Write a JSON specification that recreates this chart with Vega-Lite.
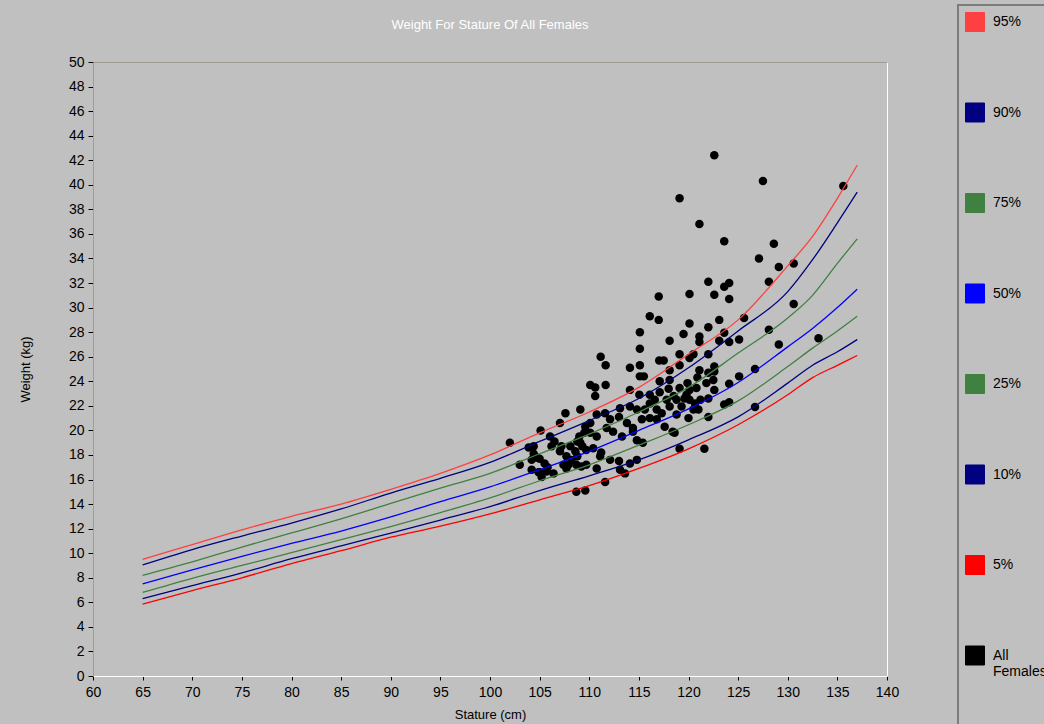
{
  "$schema": "https://vega.github.io/schema/vega-lite/v6.json",
  "width": 794,
  "height": 614,
  "autosize": {"type": "none"},
  "padding": {"left": 93, "top": 62, "right": 157, "bottom": 48},
  "background": "#c0c0c0",
  "title": {
    "text": "Weight For Stature Of All Females",
    "color": "#ffffff",
    "font": "Liberation Sans",
    "fontSize": 13,
    "fontWeight": "normal",
    "anchor": "middle",
    "frame": "group",
    "offset": -28
  },
  "datasets": {
    "curves": [
      {"series":"95%","stature":65,"weight":9.5},{"series":"95%","stature":70,"weight":10.7},{"series":"95%","stature":75,"weight":11.9},{"series":"95%","stature":80,"weight":13.0},{"series":"95%","stature":85,"weight":14.0},{"series":"95%","stature":90,"weight":15.2},{"series":"95%","stature":95,"weight":16.5},{"series":"95%","stature":100,"weight":18.0},{"series":"95%","stature":105,"weight":19.8},{"series":"95%","stature":110,"weight":21.5},{"series":"95%","stature":115,"weight":23.5},{"series":"95%","stature":120,"weight":26.2},{"series":"95%","stature":125,"weight":29.0},{"series":"95%","stature":130,"weight":33.4},{"series":"95%","stature":132.5,"weight":35.8},{"series":"95%","stature":135,"weight":38.9},{"series":"95%","stature":137,"weight":41.6},
      {"series":"90%","stature":65,"weight":9.05},{"series":"90%","stature":70,"weight":10.3},{"series":"90%","stature":75,"weight":11.4},{"series":"90%","stature":80,"weight":12.45},{"series":"90%","stature":85,"weight":13.6},{"series":"90%","stature":90,"weight":14.9},{"series":"90%","stature":95,"weight":16.1},{"series":"90%","stature":100,"weight":17.4},{"series":"90%","stature":105,"weight":19.1},{"series":"90%","stature":110,"weight":20.8},{"series":"90%","stature":115,"weight":22.6},{"series":"90%","stature":120,"weight":25.1},{"series":"90%","stature":125,"weight":28.1},{"series":"90%","stature":130,"weight":31.3},{"series":"90%","stature":132.5,"weight":33.9},{"series":"90%","stature":135,"weight":36.9},{"series":"90%","stature":137,"weight":39.4},
      {"series":"75%","stature":65,"weight":8.2},{"series":"75%","stature":70,"weight":9.3},{"series":"75%","stature":75,"weight":10.5},{"series":"75%","stature":80,"weight":11.65},{"series":"75%","stature":85,"weight":12.8},{"series":"75%","stature":90,"weight":14.05},{"series":"75%","stature":95,"weight":15.3},{"series":"75%","stature":100,"weight":16.5},{"series":"75%","stature":105,"weight":18.1},{"series":"75%","stature":110,"weight":19.7},{"series":"75%","stature":115,"weight":21.5},{"series":"75%","stature":120,"weight":23.5},{"series":"75%","stature":125,"weight":26.3},{"series":"75%","stature":130,"weight":29.15},{"series":"75%","stature":132.5,"weight":31.0},{"series":"75%","stature":135,"weight":33.6},{"series":"75%","stature":137,"weight":35.6},
      {"series":"50%","stature":65,"weight":7.5},{"series":"50%","stature":70,"weight":8.65},{"series":"50%","stature":75,"weight":9.75},{"series":"50%","stature":80,"weight":10.8},{"series":"50%","stature":85,"weight":11.8},{"series":"50%","stature":90,"weight":12.95},{"series":"50%","stature":95,"weight":14.2},{"series":"50%","stature":100,"weight":15.4},{"series":"50%","stature":105,"weight":16.8},{"series":"50%","stature":110,"weight":18.3},{"series":"50%","stature":115,"weight":20.0},{"series":"50%","stature":120,"weight":21.75},{"series":"50%","stature":125,"weight":23.9},{"series":"50%","stature":130,"weight":26.8},{"series":"50%","stature":132.5,"weight":28.3},{"series":"50%","stature":135,"weight":30.0},{"series":"50%","stature":137,"weight":31.5},
      {"series":"25%","stature":65,"weight":6.8},{"series":"25%","stature":70,"weight":7.95},{"series":"25%","stature":75,"weight":9.0},{"series":"25%","stature":80,"weight":10.05},{"series":"25%","stature":85,"weight":11.1},{"series":"25%","stature":90,"weight":12.17},{"series":"25%","stature":95,"weight":13.3},{"series":"25%","stature":100,"weight":14.5},{"series":"25%","stature":105,"weight":15.9},{"series":"25%","stature":110,"weight":17.2},{"series":"25%","stature":115,"weight":18.8},{"series":"25%","stature":120,"weight":20.46},{"series":"25%","stature":125,"weight":22.4},{"series":"25%","stature":130,"weight":25.2},{"series":"25%","stature":132.5,"weight":26.7},{"series":"25%","stature":135,"weight":28.1},{"series":"25%","stature":137,"weight":29.3},
      {"series":"10%","stature":65,"weight":6.3},{"series":"10%","stature":70,"weight":7.35},{"series":"10%","stature":75,"weight":8.4},{"series":"10%","stature":80,"weight":9.55},{"series":"10%","stature":85,"weight":10.6},{"series":"10%","stature":90,"weight":11.63},{"series":"10%","stature":95,"weight":12.7},{"series":"10%","stature":100,"weight":13.8},{"series":"10%","stature":105,"weight":15.1},{"series":"10%","stature":110,"weight":16.3},{"series":"10%","stature":115,"weight":17.6},{"series":"10%","stature":120,"weight":19.23},{"series":"10%","stature":125,"weight":21.1},{"series":"10%","stature":130,"weight":23.85},{"series":"10%","stature":132.5,"weight":25.3},{"series":"10%","stature":135,"weight":26.4},{"series":"10%","stature":137,"weight":27.4},
      {"series":"5%","stature":65,"weight":5.85},{"series":"5%","stature":70,"weight":6.95},{"series":"5%","stature":75,"weight":8.0},{"series":"5%","stature":80,"weight":9.15},{"series":"5%","stature":85,"weight":10.2},{"series":"5%","stature":90,"weight":11.3},{"series":"5%","stature":95,"weight":12.2},{"series":"5%","stature":100,"weight":13.2},{"series":"5%","stature":105,"weight":14.35},{"series":"5%","stature":110,"weight":15.5},{"series":"5%","stature":115,"weight":16.9},{"series":"5%","stature":120,"weight":18.5},{"series":"5%","stature":125,"weight":20.46},{"series":"5%","stature":130,"weight":22.9},{"series":"5%","stature":132.5,"weight":24.3},{"series":"5%","stature":135,"weight":25.3},{"series":"5%","stature":137,"weight":26.1}
    ],
    "females": [
      {"stature":122.6,"weight":42.4},{"stature":127.5,"weight":40.3},{"stature":119.1,"weight":38.9},{"stature":121.1,"weight":36.8},{"stature":123.6,"weight":35.4},{"stature":128.6,"weight":35.2},{"stature":127.1,"weight":34.0},{"stature":130.6,"weight":33.6},{"stature":129.1,"weight":33.3},{"stature":135.6,"weight":39.9},
      {"stature":128.1,"weight":32.1},{"stature":122.0,"weight":32.1},{"stature":124.1,"weight":32.0},{"stature":123.6,"weight":31.7},{"stature":122.6,"weight":31.05},{"stature":120.1,"weight":31.1},{"stature":117.0,"weight":30.9},{"stature":124.1,"weight":30.7},{"stature":130.6,"weight":30.3},{"stature":116.1,"weight":29.3},
      {"stature":117.0,"weight":29.0},{"stature":125.6,"weight":29.15},{"stature":120.1,"weight":28.7},{"stature":123.1,"weight":29.0},{"stature":122.0,"weight":28.4},{"stature":115.1,"weight":28.0},{"stature":119.5,"weight":27.85},{"stature":121.1,"weight":27.65},{"stature":123.6,"weight":27.95},{"stature":121.1,"weight":27.2},
      {"stature":123.1,"weight":27.3},{"stature":124.1,"weight":27.2},{"stature":125.1,"weight":27.4},{"stature":128.1,"weight":28.2},{"stature":118.1,"weight":27.3},{"stature":115.1,"weight":26.65},{"stature":129.1,"weight":27.0},{"stature":133.1,"weight":27.5},{"stature":119.1,"weight":26.2},{"stature":122.0,"weight":26.2},
      {"stature":117.05,"weight":25.7},{"stature":117.5,"weight":25.7},{"stature":120.1,"weight":25.9},{"stature":120.5,"weight":26.2},{"stature":111.15,"weight":26.0},{"stature":111.65,"weight":25.3},{"stature":114.1,"weight":25.1},{"stature":115.1,"weight":25.3},{"stature":118.1,"weight":24.9},{"stature":119.1,"weight":25.3},
      {"stature":121.1,"weight":24.9},{"stature":122.6,"weight":25.2},{"stature":122.6,"weight":24.8},{"stature":126.7,"weight":25.0},{"stature":125.1,"weight":24.4},{"stature":110.1,"weight":23.7},{"stature":110.6,"weight":23.5},{"stature":110.6,"weight":22.8},{"stature":111.65,"weight":23.7},{"stature":124.1,"weight":23.8},
      {"stature":126.7,"weight":21.9},{"stature":119.1,"weight":18.5},{"stature":121.6,"weight":18.5},{"stature":123.6,"weight":22.1},{"stature":124.1,"weight":22.3},{"stature":102.0,"weight":19.0},
      {"stature":115.1,"weight":24.4},{"stature":115.5,"weight":24.4},{"stature":120.9,"weight":24.3},{"stature":122.0,"weight":24.7},{"stature":117.1,"weight":24.0},{"stature":118.1,"weight":24.1},{"stature":119.9,"weight":23.85},{"stature":121.8,"weight":23.85},{"stature":114.1,"weight":23.3},{"stature":115.05,"weight":22.9},
      {"stature":116.1,"weight":22.9},{"stature":117.1,"weight":23.1},{"stature":118.0,"weight":23.4},{"stature":119.1,"weight":23.45},{"stature":120.1,"weight":23.3},{"stature":120.8,"weight":23.45},{"stature":122.6,"weight":23.3},{"stature":109.1,"weight":21.7},{"stature":110.75,"weight":21.3},{"stature":111.6,"weight":21.4},
      {"stature":113.1,"weight":21.8},{"stature":114.1,"weight":21.95},{"stature":114.8,"weight":21.7},{"stature":116.1,"weight":22.2},{"stature":116.8,"weight":21.7},{"stature":117.3,"weight":21.4},{"stature":118.1,"weight":21.95},{"stature":118.8,"weight":22.5},{"stature":119.6,"weight":22.6},{"stature":120.1,"weight":22.5},
      {"stature":120.65,"weight":22.2},{"stature":121.2,"weight":22.5},{"stature":122.0,"weight":22.6},{"stature":113.0,"weight":21.1},{"stature":113.8,"weight":20.6},{"stature":114.4,"weight":20.2},{"stature":115.3,"weight":20.9},{"stature":116.1,"weight":21.0},{"stature":116.8,"weight":20.9},{"stature":117.6,"weight":20.3},
      {"stature":118.8,"weight":21.3},{"stature":120.0,"weight":21.0},{"stature":120.5,"weight":21.7},{"stature":121.0,"weight":21.7},{"stature":122.0,"weight":21.1},{"stature":110.1,"weight":19.8},{"stature":110.75,"weight":19.5},{"stature":111.75,"weight":20.2},{"stature":112.4,"weight":19.9},{"stature":113.3,"weight":19.5},
      {"stature":114.4,"weight":19.9},{"stature":114.8,"weight":19.2},{"stature":115.4,"weight":19.0},{"stature":109.1,"weight":19.0},{"stature":109.7,"weight":18.4},{"stature":110.4,"weight":18.55},{"stature":111.1,"weight":17.9},{"stature":112.1,"weight":17.6},{"stature":109.7,"weight":17.2},{"stature":110.75,"weight":16.9},
      {"stature":116.6,"weight":22.5},{"stature":115.6,"weight":21.7},{"stature":117.8,"weight":22.5},{"stature":119.3,"weight":21.95},{"stature":119.8,"weight":22.9},{"stature":118.5,"weight":22.8},{"stature":110.1,"weight":20.6},{"stature":109.6,"weight":20.3},{"stature":112.1,"weight":20.9},{"stature":111.2,"weight":18.2},
      {"stature":118.4,"weight":19.9},{"stature":113.0,"weight":17.5},{"stature":103.0,"weight":17.2},{"stature":103.9,"weight":18.6},{"stature":104.4,"weight":18.7},{"stature":104.4,"weight":18.1},{"stature":104.2,"weight":17.6},{"stature":105.0,"weight":17.7},{"stature":105.0,"weight":16.6},{"stature":105.2,"weight":16.2},
      {"stature":105.8,"weight":17.0},{"stature":105.1,"weight":20.0},{"stature":106.05,"weight":19.5},{"stature":106.5,"weight":19.1},{"stature":106.2,"weight":18.7},{"stature":107.05,"weight":20.6},{"stature":107.6,"weight":21.4},{"stature":107.05,"weight":18.3},{"stature":107.2,"weight":18.7},{"stature":107.7,"weight":17.9},
      {"stature":108.2,"weight":17.6},{"stature":108.1,"weight":18.7},{"stature":108.8,"weight":19.1},{"stature":109.3,"weight":18.7},{"stature":108.8,"weight":17.9},{"stature":107.4,"weight":17.2},{"stature":107.9,"weight":17.2},{"stature":109.0,"weight":19.5},{"stature":109.5,"weight":19.8},{"stature":108.7,"weight":15.0},
      {"stature":109.6,"weight":15.1},{"stature":111.6,"weight":15.8},{"stature":104.2,"weight":16.8},{"stature":104.9,"weight":16.6},{"stature":105.7,"weight":16.65},{"stature":106.4,"weight":16.5},{"stature":105.5,"weight":17.3},{"stature":104.7,"weight":17.8},{"stature":108.6,"weight":18.3},{"stature":107.7,"weight":16.9},
      {"stature":108.7,"weight":17.2},{"stature":109.2,"weight":17.06},{"stature":113.1,"weight":16.8},{"stature":113.6,"weight":16.5},{"stature":114.1,"weight":17.3},{"stature":114.8,"weight":17.6},{"stature":122.5,"weight":24.1},{"stature":118.6,"weight":19.8}
    ]
  },
  "layer": [
    {
      "data": {"name": "females"},
      "mark": {"type": "point", "filled": true, "size": 72, "opacity": 1, "shape": "circle"},
      "encoding": {
        "x": {
          "field": "stature", "type": "quantitative",
          "scale": {"domain": [60, 140], "nice": false, "zero": false},
          "axis": {
            "orient": "bottom",
            "title": "Stature (cm)",
            "values": [60,65,70,75,80,85,90,95,100,105,110,115,120,125,130,135,140],
            "tickCount": 17,
            "grid": false,
            "labelFlush": false,
            "labelOverlap": false,
            "domainColor": "#ffffff",
            "domainWidth": 1,
            "tickColor": "#000000",
            "tickSize": 4,
            "labelPadding": 5,
            "labelFontSize": 14,
            "titleFontSize": 13,
            "titlePadding": 9
          }
        },
        "y": {
          "field": "weight", "type": "quantitative",
          "scale": {"domain": [0, 50], "nice": false},
          "axis": {
            "title": "Weight (kg)",
            "values": [0,2,4,6,8,10,12,14,16,18,20,22,24,26,28,30,32,34,36,38,40,42,44,46,48,50],
            "tickCount": 26,
            "grid": false,
            "labelFlush": false,
            "labelOverlap": false,
            "domainColor": "#a09c94",
            "domainWidth": 1,
            "tickColor": "#000000",
            "tickSize": 5,
            "labelPadding": 4,
            "labelFontSize": 14,
            "titleFontSize": 13,
            "titlePadding": 36
          }
        },
        "color": {
          "datum": "All Females",
          "type": "nominal",
          "scale": {
            "domain": ["95%","90%","75%","50%","25%","10%","5%","All Females"],
            "range": ["#ff4040","#000080","#408040","#0000ff","#408040","#000080","#ff0000","#000000"]
          },
          "legend": {
            "orient": "none",
            "direction": "vertical",
            "legendX": 865,
            "legendY": -57,
            "title": " ",
            "titleOrient": "bottom",
            "titleFontSize": 1,
            "titlePadding": 60,
            "symbolType": "square",
            "symbolSize": 361,
            "symbolStrokeWidth": 1,
            "symbolStrokeColor": "#000000",
            "labelFont": "Liberation Sans",
            "labelFontSize": 14,
            "labelColor": "#000000",
            "labelOffset": 8,
            "labelLimit": 300,
            "rowPadding": 66.5,
            "strokeColor": "#7c7c7c",
            "padding": 7,
            "labelExpr": "datum.label == 'All Females' ? ['All', 'Females'] : datum.label",
            "encode": {
              "symbols": {
                "update": {
                  "fill": {"scale": "color", "field": "value"},
                  "stroke": {"value": "#000000"},
                  "strokeWidth": {"value": 1},
                  "opacity": {"value": 1},
                  "shape": {"value": "square"}
                }
              }
            }
          }
        }
      }
    },
    {
      "data": {"name": "curves"},
      "mark": {"type": "line", "strokeWidth": 1.3, "interpolate": "monotone"},
      "encoding": {
        "x": {
          "field": "stature", "type": "quantitative",
          "axis": {
            "orient": "top",
            "title": null,
            "labels": false,
            "ticks": false,
            "grid": false,
            "domainColor": "#a09c94",
            "domainWidth": 1
          }
        },
        "y": {"field": "weight", "type": "quantitative"},
        "color": {"field": "series", "type": "nominal"},
        "detail": {"field": "series"}
      }
    }
  ],
  "resolve": {"axis": {"x": "independent"}},
  "config": {
    "font": "Liberation Sans",
    "view": {"stroke": "#ffffff", "strokeWidth": 1},
    "axis": {
      "labelFont": "Liberation Sans",
      "titleFont": "Liberation Sans",
      "labelColor": "#000000",
      "titleColor": "#000000",
      "titleFontWeight": "normal"
    },
    "legend": {"strokeWidth": 2}
  }
}
